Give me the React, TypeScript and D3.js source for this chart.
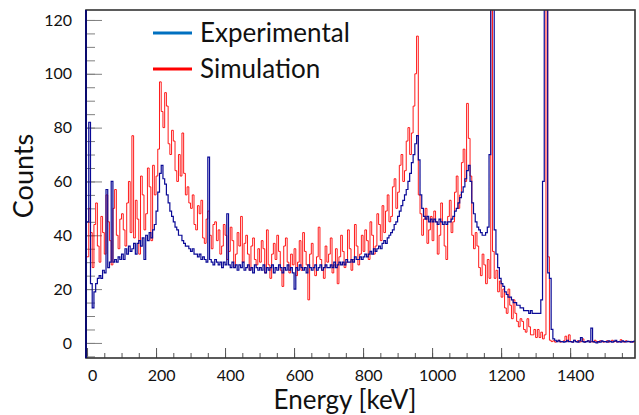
import { useEffect, useRef } from "react";
import * as d3 from "d3";

// histogram binning of both spectra (keV)
const binStart = 0;
const binWidth = 5;

// measured spectrum, one row per 100 keV (20 bins of 5 keV)
const experimental = [
  45, 82, 22, 13, 19, 22, 24, 25, 24, 27, 26, 57, 28, 30, 60, 30, 31, 30, 32, 31, // 0
  33, 31, 35, 33, 36, 34, 35, 37, 33, 37, 38, 36, 39, 31, 40, 38, 41, 39, 42, 44, // 100
  49, 56, 63, 66, 61, 59, 55, 52, 49, 47, 45, 43, 42, 40, 40, 38, 37, 36, 36, 35, // 200
  34, 35, 33, 33, 32, 33, 31, 32, 31, 30, 69, 31, 30, 29, 31, 30, 29, 30, 28, 30, // 300
  29, 48, 29, 28, 30, 28, 29, 27, 29, 28, 30, 27, 28, 29, 27, 28, 26, 29, 28, 27, // 400
  28, 27, 29, 26, 28, 27, 28, 29, 26, 28, 27, 29, 28, 26, 28, 27, 29, 27, 28, 26, // 500
  20, 28, 27, 29, 28, 27, 28, 26, 29, 28, 27, 28, 29, 27, 28, 29, 27, 28, 29, 28, // 600
  28, 29, 28, 30, 28, 29, 30, 29, 30, 29, 31, 30, 30, 31, 30, 32, 31, 31, 32, 31, // 700
  32, 33, 32, 33, 34, 33, 35, 34, 35, 36, 35, 37, 38, 37, 39, 40, 41, 42, 44, 45, // 800
  47, 49, 51, 53, 55, 57, 60, 63, 67, 70, 74, 77, 68, 55, 50, 47, 46, 47, 45, 46, // 900
  45, 46, 45, 44, 46, 45, 44, 45, 44, 45, 45, 46, 47, 49, 50, 52, 54, 56, 58, 61, // 1000
  64, 66, 60, 52, 48, 45, 43, 42, 41, 40, 40, 41, 43, 70, 400, 300, 42, 33, 28, 24, // 1100
  22, 21, 19, 18, 17, 17, 16, 15, 15, 14, 14, 13, 13, 12, 12, 12, 11, 12, 11, 11, // 1200
  11, 11, 11, 16, 60, 400, 400, 26, 24, 5, 1.5, 1, 0.5, 1, 0.5, 0.5, 0.3, 0.5, 1, 0.5, // 1300
  0.5, 0.3, 1, 0.5, 0.3, 0.8, 2, 0.5, 0.3, 0.5, 0.8, 0.3, 5.5, 0.5, 0.3, 0, 0.5, 0.3, 0.8, 0.5, // 1400
  0.5, 0.3, 0.8, 0.5, 0.3, 0.6, 1, 0.4, 0.5, 0.3, 0.8, 0.5, 0.4, 0.6, 0.5, 0.3, 0.5, 0.7, 0.5, 0.5, // 1500
];

// simulated spectrum, same binning
const simulation = [
  32, 50, 41, 28, 44, 52, 36, 30, 47, 41, 33, 55, 45, 38, 29, 50, 57, 40, 35, 46, // 0
  48, 42, 36, 52, 60, 41, 77, 39, 53, 46, 33, 62, 55, 42, 48, 65, 58, 38, 66, 55, // 100
  62, 72, 97, 86, 80, 93, 88, 74, 70, 79, 75, 64, 60, 70, 62, 78, 63, 55, 58, 52, // 200
  50, 55, 44, 42, 51, 48, 53, 39, 37, 46, 49, 40, 35, 44, 45, 38, 42, 33, 36, 44, // 300
  40, 31, 34, 43, 38, 28, 33, 41, 36, 47, 30, 37, 40, 33, 27, 36, 39, 31, 29, 35, // 400
  30, 38, 35, 26, 42, 29, 24, 33, 37, 31, 40, 34, 27, 21, 36, 39, 30, 26, 33, 29, // 500
  35, 25, 30, 38, 27, 41, 34, 29, 16, 33, 37, 28, 25, 32, 43, 31, 27, 24, 36, 30, // 600
  33, 39, 26, 29, 35, 22, 32, 40, 34, 28, 30, 42, 35, 27, 31, 44, 36, 29, 33, 40, // 700
  34, 42, 38, 31, 45, 40, 33, 36, 48, 44, 38, 51, 41, 49, 55, 45, 47, 58, 61, 50, // 800
  56, 66, 70, 60, 64, 75, 80, 70, 78, 88, 100, 114, 55, 48, 40, 46, 50, 37, 42, 47, // 900
  38, 49, 45, 33, 40, 52, 44, 36, 31, 47, 53, 41, 45, 56, 62, 50, 55, 67, 72, 60, // 1000
  89, 76, 62, 40, 35, 41, 36, 28, 25, 33, 29, 22, 31, 24, 600, 34, 24, 27, 19, 23, // 1100
  17, 20, 13, 11, 20, 14, 9, 16, 11, 8, 6, 9, 8, 5, 4, 9, 6, 3, 3, 5, // 1200
  2, 5, 2, 4, 1.5, 3, 600, 32, 1, 0.5, 0.8, 0.3, 0.5, 1, 0.3, 0.5, 0.8, 2.5, 0.5, 3, // 1300
  0.5, 0.3, 1, 0.5, 0.8, 0.3, 0.5, 1.5, 0.3, 0.5, 0.8, 0.4, 0.5, 0.3, 1, 0.5, 0.3, 0.8, 0.5, 0.3, // 1400
  0.5, 0.8, 0.3, 0.5, 1, 0.4, 0.6, 0.3, 0.5, 1.2, 0.5, 0.3, 0.8, 0.5, 0.4, 0.6, 0.3, 0.5, 0.8, 0.5, // 1500
];

const xTicks = [0, 200, 400, 600, 800, 1000, 1200, 1400];
const yTicks = [0, 20, 40, 60, 80, 100, 120];
const xMinorStep = 50;
const yMinorStep = 5;

const legendItems = [
  { label: "Experimental", color: "#0070c0" },
  { label: "Simulation", color: "#ff0000" },
];

const W = 639;
const H = 415;
const plot = { left: 86, right: 635, top: 10, bottom: 358 };
const font = "Lato, 'Open Sans', sans-serif";

function toPoints(counts: number[]) {
  const pts = counts.map((v, i) => ({ e: binStart + i * binWidth, v }));
  // close the last bin
  pts.push({ e: binStart + counts.length * binWidth, v: counts[counts.length - 1] });
  return pts;
}

export default function App() {
  const ref = useRef<SVGSVGElement>(null);

  useEffect(() => {
    const svg = d3.select(ref.current);
    svg.selectAll("*").remove();

    const x = d3.scaleLinear().domain([-3, 1588]).range([plot.left, plot.right]);
    const y = d3.scaleLinear().domain([-5.6, 123.7]).range([plot.bottom, plot.top]);

    svg
      .append("defs")
      .append("clipPath")
      .attr("id", "plot-clip")
      .append("rect")
      .attr("x", plot.left)
      .attr("y", plot.top)
      .attr("width", plot.right - plot.left)
      .attr("height", plot.bottom - plot.top);

    // x axis: minor then major ticks, pointing inward
    const xMinor = d3.range(0, 1588, xMinorStep);
    const gxMinor = svg
      .append("g")
      .attr("transform", `translate(0,${plot.bottom})`)
      .call(d3.axisBottom(x).tickValues(xMinor).tickSize(-5).tickFormat(() => ""));
    gxMinor.select(".domain").remove();
    gxMinor.selectAll("line").attr("stroke", "#555");

    const gx = svg
      .append("g")
      .attr("transform", `translate(0,${plot.bottom})`)
      .call(d3.axisBottom(x).tickValues(xTicks).tickSize(-10).tickPadding(12).tickFormat(d3.format("d")));
    gx.select(".domain").remove();
    gx.selectAll("line").attr("stroke", "#555");
    gx.selectAll("text")
      .attr("dx", 5)
      .attr("fill", "#111")
      .style("font-family", font)
      .style("font-size", "16px");

    // y axis
    const yMinor = d3.range(-5, 121, yMinorStep);
    const gyMinor = svg
      .append("g")
      .attr("transform", `translate(${plot.left},0)`)
      .call(d3.axisLeft(y).tickValues(yMinor).tickSize(-9).tickFormat(() => ""));
    gyMinor.select(".domain").remove();
    gyMinor.selectAll("line").attr("stroke", "#808080");

    const gy = svg
      .append("g")
      .attr("transform", `translate(${plot.left},0)`)
      .call(d3.axisLeft(y).tickValues(yTicks).tickSize(-16).tickPadding(14));
    gy.select(".domain").remove();
    gy.selectAll("line").attr("stroke", "#808080");
    gy.selectAll("text")
      .attr("fill", "#111")
      .style("font-family", font)
      .style("font-size", "16px");

    // spectra as step histograms
    const line = d3
      .line<{ e: number; v: number }>()
      .x((d) => x(d.e))
      .y((d) => y(d.v))
      .curve(d3.curveStepAfter);

    const data = svg.append("g").attr("clip-path", "url(#plot-clip)");
    data
      .append("path")
      .datum(toPoints(simulation))
      .attr("d", line)
      .attr("fill", "none")
      .attr("stroke", "#ff0000")
      .attr("stroke-width", 0.9);
    data
      .append("path")
      .datum(toPoints(experimental))
      .attr("d", line)
      .attr("fill", "none")
      .attr("stroke", "#0a0a96")
      .attr("stroke-width", 1.2);

    // frame
    svg
      .append("rect")
      .attr("x", plot.left)
      .attr("y", plot.top)
      .attr("width", plot.right - plot.left)
      .attr("height", plot.bottom - plot.top)
      .attr("fill", "none")
      .attr("stroke", "#333")
      .attr("stroke-width", 1.6);
    svg
      .append("line")
      .attr("x1", plot.left)
      .attr("x2", plot.left)
      .attr("y1", plot.top)
      .attr("y2", plot.bottom)
      .attr("stroke", "#0a0a6e")
      .attr("stroke-width", 2);

    // legend
    const legend = svg
      .append("g")
      .selectAll("g")
      .data(legendItems)
      .join("g")
      .attr("transform", (_, i) => `translate(0,${33 + i * 36})`);
    legend
      .append("line")
      .attr("x1", 153)
      .attr("x2", 192)
      .attr("stroke", (d) => d.color)
      .attr("stroke-width", 3);
    legend
      .append("text")
      .attr("x", 200)
      .attr("y", 9)
      .attr("fill", "#111")
      .style("font-family", font)
      .style("font-size", "26px")
      .text((d) => d.label);

    // axis titles
    svg
      .append("text")
      .attr("x", 345)
      .attr("y", 409)
      .attr("text-anchor", "middle")
      .attr("fill", "#111")
      .style("font-family", font)
      .style("font-size", "26px")
      .text("Energy [keV]");
    svg
      .append("text")
      .attr("transform", "translate(33,176) rotate(-90)")
      .attr("text-anchor", "middle")
      .attr("fill", "#111")
      .style("font-family", font)
      .style("font-size", "27px")
      .text("Counts");
  }, []);

  return (
    <svg
      ref={ref}
      width={W}
      height={H}
      viewBox={`0 0 ${W} ${H}`}
      style={{ position: "absolute", left: 0, top: 0, background: "#fff" }}
    />
  );
}
